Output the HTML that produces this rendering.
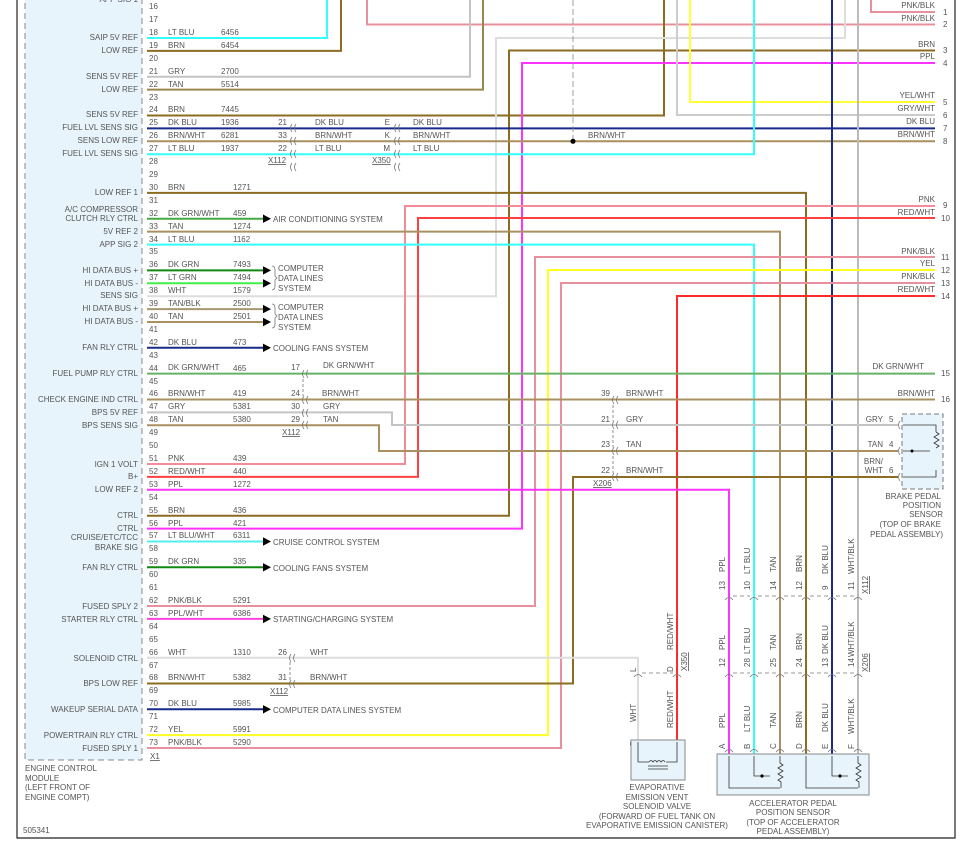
<!DOCTYPE html>
<html><head><meta charset="utf-8"><style>
html,body{margin:0;padding:0;background:#fff}
svg{display:block}
text{font-family:"Liberation Sans",sans-serif;font-size:8px;fill:#555}
.r{text-anchor:end}.m{text-anchor:middle}
.w{fill:none;stroke-width:2;stroke-linejoin:miter}
.c{fill:none;stroke:#777;stroke-width:0.8}
</style></head><body>
<svg width="965" height="842" viewBox="0 0 965 842" xmlns="http://www.w3.org/2000/svg">
<defs>
<pattern id="pg" patternUnits="userSpaceOnUse" x="0" y="-0.8" width="20" height="12.91">
<path d="M143.5 3v7M145.5 3.5q3 3.5 0 7.5" stroke="#666" stroke-width="0.8" fill="none"/>
</pattern>
</defs>
<!-- frame -->
<path d="M17 0V838H955V0" fill="none" stroke="#222" stroke-width="1.2"/>
<!-- ECM -->
<rect x="25" y="-5" width="117" height="765" fill="#e8f4fc" stroke="#888" stroke-dasharray="6,4"/>
<rect x="140" y="0" width="12" height="752" fill="url(#pg)"/>

<!-- wires -->
<g class="w">
<path d="M147 38H327V0" stroke="#33ffff"/>
<path d="M147 50.9H341V0" stroke="#8b6c22"/>
<path d="M367 0V24.5H935" stroke="#e8909e"/>
<path d="M871 0V12H935" stroke="#e8909e"/>
<path d="M147 76.7H470V0" stroke="#c4c4c4"/>
<path d="M147 89.6H483V0" stroke="#9c8650"/>
<path d="M147 115.5H664V0" stroke="#8b6c22"/>
<path d="M147 515.7H509V50.5H935" stroke="#8b6c22"/>
<path d="M147 528.6H522V63H935" stroke="#ff33ff"/>
<path d="M147 296.2H496V38H845V0" stroke="#dddddd"/>
<path d="M690 0V102H935" stroke="#ffff33"/>
<path d="M677 0V115H935" stroke="#cccccc"/>
<path d="M147 128.4H935" stroke="#1a2a8a"/>
<path d="M147 141.3H935" stroke="#a89060"/>
<path d="M147 154.2H754V0" stroke="#33ffff"/>
<path d="M832 0V755" stroke="#1a2a8a"/>
<path d="M858 0V755" stroke="#bbbbbb"/>
<path d="M147 192.9H806V755" stroke="#8b6c22"/>
<path d="M147 464H405V206H935" stroke="#f58a98"/>
<path d="M147 476.9H418V218H935" stroke="#ff4040"/>
<path d="M147 231.6H780V755" stroke="#a89060"/>
<path d="M147 244.6H754V755" stroke="#33ffff"/>
<path d="M147 606H535V257H935" stroke="#e8909e"/>
<path d="M147 735.1H548V270H935" stroke="#ffff22"/>
<path d="M147 748H561V283H935" stroke="#e8909e"/>
<path d="M935 296H677V740" stroke="#ff2a2a"/>
<path d="M147 373.6H935" stroke="#66b266"/>
<path d="M147 399.5H935" stroke="#a89060"/>
<path d="M147 412.4H392V425H898" stroke="#c4c4c4"/>
<path d="M147 425.3H379V451H898" stroke="#a89060"/>
<path d="M147 683.5H573V477H898" stroke="#8b6c22"/>
<path d="M147 489.8H729V755" stroke="#ff33ff"/>
<path d="M147 657.7H638V740" stroke="#dddddd"/>
<path d="M147 218.7H263" stroke="#44aa44"/>
<path d="M147 270.4H263" stroke="#118811"/>
<path d="M147 283.3H263" stroke="#44ee44"/>
<path d="M147 309.1H263" stroke="#a89870"/>
<path d="M147 322H263" stroke="#a89060"/>
<path d="M147 347.8H263" stroke="#1a2a8a"/>
<path d="M147 541.5H263" stroke="#55eeee"/>
<path d="M147 567.3H263" stroke="#118811"/>
<path d="M147 618.9H263" stroke="#ff44dd"/>
<path d="M147 709.3H263" stroke="#1a2a8a"/>
</g>
<path d="M573 0V141" stroke="#888" stroke-width="0.8" stroke-dasharray="6,3"/>
<circle cx="573" cy="141.3" r="2.5" fill="#000"/>

<!-- arrows -->
<g fill="#000">
<path d="M263 214.5l8 4.2-8 4.2z"/><path d="M263 266.2l8 4.2-8 4.2z"/><path d="M263 279.1l8 4.2-8 4.2z"/>
<path d="M263 304.9l8 4.2-8 4.2z"/><path d="M263 317.8l8 4.2-8 4.2z"/><path d="M263 343.6l8 4.2-8 4.2z"/>
<path d="M263 537.3l8 4.2-8 4.2z"/><path d="M263 563.1l8 4.2-8 4.2z"/><path d="M263 614.7l8 4.2-8 4.2z"/>
<path d="M263 705.1l8 4.2-8 4.2z"/>
</g>
<path d="M272 266q3 0 3 4v6l2 2-2 2v6q0 4-3 4M272 304q3 0 3 4v6l2 2-2 2v6q0 4-3 4" class="c"/>
<text x="273" y="222">AIR CONDITIONING SYSTEM</text>
<text x="278" y="271">COMPUTER</text><text x="278" y="281">DATA LINES</text><text x="278" y="291">SYSTEM</text>
<text x="278" y="310">COMPUTER</text><text x="278" y="320">DATA LINES</text><text x="278" y="330">SYSTEM</text>
<text x="273" y="351">COOLING FANS SYSTEM</text>
<text x="273" y="545">CRUISE CONTROL SYSTEM</text>
<text x="273" y="571">COOLING FANS SYSTEM</text>
<text x="273" y="622">STARTING/CHARGING SYSTEM</text>
<text x="273" y="713">COMPUTER DATA LINES SYSTEM</text>

<!-- ECM labels -->
<g class="r">
<text x="138" y="2">APP SIG 1</text>
<text x="138" y="40">SAIP 5V REF</text><text x="138" y="53">LOW REF</text>
<text x="138" y="79">SENS 5V REF</text><text x="138" y="92">LOW REF</text>
<text x="138" y="117">SENS 5V REF</text><text x="138" y="130">FUEL LVL SENS SIG</text>
<text x="138" y="143">SENS LOW REF</text><text x="138" y="156">FUEL LVL SENS SIG</text>
<text x="138" y="195">LOW REF 1</text>
<text x="138" y="212">A/C COMPRESSOR</text><text x="138" y="221">CLUTCH RLY CTRL</text>
<text x="138" y="234">5V REF 2</text><text x="138" y="247">APP SIG 2</text>
<text x="138" y="273">HI DATA BUS +</text><text x="138" y="286">HI DATA BUS -</text><text x="138" y="298">SENS SIG</text>
<text x="138" y="311">HI DATA BUS +</text><text x="138" y="324">HI DATA BUS -</text>
<text x="138" y="350">FAN RLY CTRL</text><text x="138" y="376">FUEL PUMP RLY CTRL</text>
<text x="138" y="402">CHECK ENGINE IND CTRL</text><text x="138" y="415">BPS 5V REF</text><text x="138" y="428">BPS SENS SIG</text>
<text x="138" y="467">IGN 1 VOLT</text><text x="138" y="479">B+</text><text x="138" y="492">LOW REF 2</text>
<text x="138" y="518">CTRL</text><text x="138" y="531">CTRL</text>
<text x="138" y="540">CRUISE/ETC/TCC</text><text x="138" y="550">BRAKE SIG</text>
<text x="138" y="570">FAN RLY CTRL</text><text x="138" y="609">FUSED SPLY 2</text><text x="138" y="622">STARTER RLY CTRL</text>
<text x="138" y="661">SOLENOID CTRL</text><text x="138" y="686">BPS LOW REF</text><text x="138" y="712">WAKEUP SERIAL DATA</text>
<text x="138" y="738">POWERTRAIN RLY CTRL</text><text x="138" y="751">FUSED SPLY 1</text>
</g>
<!-- pin numbers -->
<g>
<text x="149" y="9">16</text><text x="149" y="22">17</text><text x="149" y="35">18</text><text x="149" y="48">19</text>
<text x="149" y="61">20</text><text x="149" y="74">21</text><text x="149" y="87">22</text><text x="149" y="100">23</text>
<text x="149" y="112">24</text><text x="149" y="125">25</text><text x="149" y="138">26</text><text x="149" y="151">27</text>
<text x="149" y="164">28</text><text x="149" y="177">29</text><text x="149" y="190">30</text><text x="149" y="203">31</text>
<text x="149" y="216">32</text><text x="149" y="229">33</text><text x="149" y="242">34</text><text x="149" y="254">35</text>
<text x="149" y="267">36</text><text x="149" y="280">37</text><text x="149" y="293">38</text><text x="149" y="306">39</text>
<text x="149" y="319">40</text><text x="149" y="332">41</text><text x="149" y="345">42</text><text x="149" y="358">43</text>
<text x="149" y="371">44</text><text x="149" y="384">45</text><text x="149" y="396">46</text><text x="149" y="409">47</text>
<text x="149" y="422">48</text><text x="149" y="435">49</text><text x="149" y="448">50</text><text x="149" y="461">51</text>
<text x="149" y="474">52</text><text x="149" y="487">53</text><text x="149" y="500">54</text><text x="149" y="513">55</text>
<text x="149" y="526">56</text><text x="149" y="538">57</text><text x="149" y="551">58</text><text x="149" y="564">59</text>
<text x="149" y="577">60</text><text x="149" y="590">61</text><text x="149" y="603">62</text><text x="149" y="616">63</text>
<text x="149" y="629">64</text><text x="149" y="642">65</text><text x="149" y="655">66</text><text x="149" y="668">67</text>
<text x="149" y="680">68</text><text x="149" y="693">69</text><text x="149" y="706">70</text><text x="149" y="719">71</text>
<text x="149" y="732">72</text><text x="149" y="745">73</text>
<text x="150" y="759" text-decoration="underline">X1</text>
</g>
<!-- wire labels -->
<g>
<text x="168" y="35">LT BLU</text><text x="221" y="35">6456</text>
<text x="168" y="48">BRN</text><text x="221" y="48">6454</text>
<text x="168" y="74">GRY</text><text x="221" y="74">2700</text>
<text x="168" y="87">TAN</text><text x="221" y="87">5514</text>
<text x="168" y="112">BRN</text><text x="221" y="112">7445</text>
<text x="168" y="125">DK BLU</text><text x="221" y="125">1936</text>
<text x="168" y="138">BRN/WHT</text><text x="221" y="138">6281</text>
<text x="168" y="151">LT BLU</text><text x="221" y="151">1937</text>
<text x="168" y="190">BRN</text><text x="233" y="190">1271</text>
<text x="168" y="216">DK GRN/WHT</text><text x="233" y="216">459</text>
<text x="168" y="229">TAN</text><text x="233" y="229">1274</text>
<text x="168" y="242">LT BLU</text><text x="233" y="242">1162</text>
<text x="168" y="267">DK GRN</text><text x="233" y="267">7493</text>
<text x="168" y="280">LT GRN</text><text x="233" y="280">7494</text>
<text x="168" y="293">WHT</text><text x="233" y="293">1579</text>
<text x="168" y="306">TAN/BLK</text><text x="233" y="306">2500</text>
<text x="168" y="319">TAN</text><text x="233" y="319">2501</text>
<text x="168" y="345">DK BLU</text><text x="233" y="345">473</text>
<text x="168" y="370">DK GRN/WHT</text><text x="233" y="371">465</text>
<text x="168" y="396">BRN/WHT</text><text x="233" y="396">419</text>
<text x="168" y="409">GRY</text><text x="233" y="409">5381</text>
<text x="168" y="422">TAN</text><text x="233" y="422">5380</text>
<text x="168" y="461">PNK</text><text x="233" y="461">439</text>
<text x="168" y="474">RED/WHT</text><text x="233" y="474">440</text>
<text x="168" y="487">PPL</text><text x="233" y="487">1272</text>
<text x="168" y="513">BRN</text><text x="233" y="513">436</text>
<text x="168" y="526">PPL</text><text x="233" y="526">421</text>
<text x="168" y="538">LT BLU/WHT</text><text x="233" y="538">6311</text>
<text x="168" y="564">DK GRN</text><text x="233" y="564">335</text>
<text x="168" y="603">PNK/BLK</text><text x="233" y="603">5291</text>
<text x="168" y="616">PPL/WHT</text><text x="233" y="616">6386</text>
<text x="168" y="655">WHT</text><text x="233" y="655">1310</text>
<text x="168" y="680">BRN/WHT</text><text x="233" y="680">5382</text>
<text x="168" y="706">DK BLU</text><text x="233" y="706">5985</text>
<text x="168" y="732">YEL</text><text x="233" y="732">5991</text>
<text x="168" y="745">PNK/BLK</text><text x="233" y="745">5290</text>
</g>
<!-- inline connectors -->
<g class="c">
<path d="M292 124q-3 4 0 8M296 124q-3 4 0 8M292 137q-3 4 0 8M296 137q-3 4 0 8M292 150q-3 4 0 8M296 150q-3 4 0 8M292 163q-3 4 0 8M296 163q-3 4 0 8"/>
<path d="M396 124q-3 4 0 8M400 124q-3 4 0 8M396 137q-3 4 0 8M400 137q-3 4 0 8M396 150q-3 4 0 8M400 150q-3 4 0 8M396 163q-3 4 0 8M400 163q-3 4 0 8"/>
<path d="M304 370q-3 4 0 8M308 370q-3 4 0 8M304 396q-3 4 0 8M308 396q-3 4 0 8M304 409q-3 4 0 8M308 409q-3 4 0 8M304 421q-3 4 0 8M308 421q-3 4 0 8"/>
<path d="M291 654q-3 4 0 8M295 654q-3 4 0 8M291 680q-3 4 0 8M295 680q-3 4 0 8"/>
<path d="M614 396q-3 4 0 8M618 396q-3 4 0 8M614 421q-3 4 0 8M618 421q-3 4 0 8M614 447q-3 4 0 8M618 447q-3 4 0 8M614 473q-3 4 0 8M618 473q-3 4 0 8"/>
<path d="M303 379v17M290 662v18M613 405v16M613 430v17M613 456v17" stroke-dasharray="3,2"/>
</g>
<g>
<text x="287" y="125" class="r">21</text><text x="315" y="125">DK BLU</text><text x="390" y="125" class="r">E</text><text x="413" y="125">DK BLU</text>
<text x="287" y="138" class="r">33</text><text x="315" y="138">BRN/WHT</text><text x="390" y="138" class="r">K</text><text x="413" y="138">BRN/WHT</text>
<text x="287" y="151" class="r">22</text><text x="315" y="151">LT BLU</text><text x="390" y="151" class="r">M</text><text x="413" y="151">LT BLU</text>
<text x="268" y="163" text-decoration="underline">X112</text><text x="372" y="163" text-decoration="underline">X350</text>
<text x="588" y="138">BRN/WHT</text>
<text x="300" y="370" class="r">17</text><text x="323" y="368">DK GRN/WHT</text>
<text x="300" y="396" class="r">24</text><text x="322" y="396">BRN/WHT</text>
<text x="300" y="409" class="r">30</text><text x="323" y="409">GRY</text>
<text x="300" y="422" class="r">29</text><text x="323" y="422">TAN</text>
<text x="282" y="435" text-decoration="underline">X112</text>
<text x="287" y="655" class="r">26</text><text x="310" y="655">WHT</text>
<text x="287" y="680" class="r">31</text><text x="310" y="680">BRN/WHT</text>
<text x="270" y="694" text-decoration="underline">X112</text>
<text x="610" y="396" class="r">39</text><text x="626" y="396">BRN/WHT</text>
<text x="610" y="422" class="r">21</text><text x="626" y="422">GRY</text>
<text x="610" y="447" class="r">23</text><text x="626" y="447">TAN</text>
<text x="610" y="473" class="r">22</text><text x="626" y="473">BRN/WHT</text>
<text x="593" y="486" text-decoration="underline">X206</text>
</g>
<!-- right pins -->
<g class="r">
<text x="935" y="8">PNK/BLK</text><text x="935" y="21">PNK/BLK</text>
<text x="935" y="47">BRN</text><text x="935" y="59">PPL</text>
<text x="935" y="98">YEL/WHT</text><text x="935" y="111">GRY/WHT</text><text x="935" y="124">DK BLU</text><text x="935" y="137">BRN/WHT</text>
<text x="935" y="202">PNK</text><text x="935" y="215">RED/WHT</text>
<text x="935" y="254">PNK/BLK</text><text x="935" y="266">YEL</text><text x="935" y="279">PNK/BLK</text><text x="935" y="292">RED/WHT</text>
<text x="924" y="369">DK GRN/WHT</text><text x="935" y="396">BRN/WHT</text>
</g>
<g>
<text x="943" y="15">1</text><text x="943" y="27">2</text><text x="943" y="53">3</text><text x="943" y="66">4</text>
<text x="943" y="105">5</text><text x="943" y="118">6</text><text x="943" y="131">7</text><text x="943" y="144">8</text>
<text x="943" y="208">9</text><text x="941" y="221">10</text><text x="941" y="260">11</text><text x="941" y="273">12</text>
<text x="941" y="286">13</text><text x="941" y="299">14</text><text x="941" y="376">15</text><text x="941" y="402">16</text>
</g>
<!-- brake sensor -->
<rect x="902" y="414" width="41" height="75" fill="#e8f4fc" stroke="#777" stroke-dasharray="5,3"/>
<g class="c"><path d="M900 421q-3 4 0 8M900 447q-3 4 0 8M900 473q-3 4 0 8"/></g>
<path d="M903 425H936V432M903 451H930M903 477H936V470M936 432l3 2-5 3 5 3-5 3 5 3-3 2" fill="none" stroke="#333" stroke-width="0.8"/>
<circle cx="912" cy="451" r="1.5" fill="#000"/>
<g class="r"><text x="883" y="422">GRY</text><text x="883" y="447">TAN</text><text x="883" y="464">BRN/</text><text x="883" y="473">WHT</text></g>
<text x="889" y="422">5</text><text x="889" y="447">4</text><text x="889" y="473">6</text>
<g class="r"><text x="941" y="499">BRAKE PEDAL</text><text x="941" y="508">POSITION</text><text x="943" y="517">SENSOR</text><text x="941" y="527">(TOP OF BRAKE</text><text x="943" y="537">PEDAL ASSEMBLY)</text></g>

<!-- APP connectors -->
<g class="c">
<path d="M725 600q4-5 8 0M750 600q4-5 8 0M776 600q4-5 8 0M802 600q4-5 8 0M828 600q4-5 8 0M854 600q4-5 8 0"/>
<path d="M725 677q4-5 8 0M750 677q4-5 8 0M776 677q4-5 8 0M802 677q4-5 8 0M828 677q4-5 8 0M854 677q4-5 8 0"/>
<path d="M725 752q4-5 8 0M750 752q4-5 8 0M776 752q4-5 8 0M802 752q4-5 8 0M828 752q4-5 8 0M854 752q4-5 8 0"/>
<path d="M634 744q4-5 8 0M673 744q4-5 8 0M634 677q4-5 8 0M673 677q4-5 8 0"/>
<path d="M733 596h17M758 596h18M784 596h18M810 596h18M836 596h18M733 673h17M758 673h18M784 673h18M810 673h18M836 673h18M642 673h31" stroke-dasharray="4,3"/>
</g>
<g>
<text transform="translate(725,590) rotate(-90)">13</text><text transform="translate(725,572) rotate(-90)">PPL</text>
<text transform="translate(750,590) rotate(-90)">10</text><text transform="translate(750,574) rotate(-90)">LT BLU</text>
<text transform="translate(776,590) rotate(-90)">14</text><text transform="translate(776,572) rotate(-90)">TAN</text>
<text transform="translate(802,590) rotate(-90)">12</text><text transform="translate(802,572) rotate(-90)">BRN</text>
<text transform="translate(828,590) rotate(-90)">9</text><text transform="translate(828,574) rotate(-90)">DK BLU</text>
<text transform="translate(854,590) rotate(-90)">11</text><text transform="translate(854,574) rotate(-90)">WHT/BLK</text>
<text transform="translate(868,594) rotate(-90)" text-decoration="underline">X112</text>
<text transform="translate(725,667) rotate(-90)">12</text><text transform="translate(725,650) rotate(-90)">PPL</text>
<text transform="translate(750,667) rotate(-90)">28</text><text transform="translate(750,654) rotate(-90)">LT BLU</text>
<text transform="translate(776,667) rotate(-90)">25</text><text transform="translate(776,650) rotate(-90)">TAN</text>
<text transform="translate(802,667) rotate(-90)">24</text><text transform="translate(802,650) rotate(-90)">BRN</text>
<text transform="translate(828,667) rotate(-90)">13</text><text transform="translate(828,654) rotate(-90)">DK BLU</text>
<text transform="translate(854,667) rotate(-90)">14</text><text transform="translate(854,657) rotate(-90)">WHT/BLK</text>
<text transform="translate(868,672) rotate(-90)" text-decoration="underline">X206</text>
<text transform="translate(725,749) rotate(-90)">A</text><text transform="translate(725,728) rotate(-90)">PPL</text>
<text transform="translate(750,749) rotate(-90)">B</text><text transform="translate(750,732) rotate(-90)">LT BLU</text>
<text transform="translate(776,749) rotate(-90)">C</text><text transform="translate(776,728) rotate(-90)">TAN</text>
<text transform="translate(802,749) rotate(-90)">D</text><text transform="translate(802,728) rotate(-90)">BRN</text>
<text transform="translate(828,749) rotate(-90)">E</text><text transform="translate(828,732) rotate(-90)">DK BLU</text>
<text transform="translate(854,749) rotate(-90)">F</text><text transform="translate(854,734) rotate(-90)">WHT/BLK</text>
<text transform="translate(636,672) rotate(-90)">L</text><text transform="translate(673,672) rotate(-90)">D</text>
<text transform="translate(673,650) rotate(-90)">RED/WHT</text>
<text transform="translate(687,671) rotate(-90)" text-decoration="underline">X350</text>
<text transform="translate(636,746) rotate(-90)">B</text><text transform="translate(636,722) rotate(-90)">WHT</text>
<text transform="translate(673,746) rotate(-90)">A</text><text transform="translate(673,728) rotate(-90)">RED/WHT</text>
</g>
<!-- APP sensor -->
<rect x="717" y="754" width="152" height="41" fill="#e8f4fc" stroke="#888"/>
<path d="M729 756V788H780M754 756V776H770M780 756V763l3 2-5 3 5 3-5 3 5 3-5 3 3 2V788M806 756V788H858M832 756V776H848M858 756V763l3 2-5 3 5 3-5 3 5 3-5 3 3 2V788" fill="none" stroke="#333" stroke-width="0.8"/>
<circle cx="762" cy="776" r="1.6" fill="#000"/><circle cx="840" cy="776" r="1.6" fill="#000"/>
<g class="m"><text x="793" y="806">ACCELERATOR PEDAL</text><text x="793" y="815">POSITION SENSOR</text><text x="793" y="825">(TOP OF ACCELERATOR</text><text x="793" y="834">PEDAL ASSEMBLY)</text></g>
<!-- solenoid -->
<rect x="631" y="740" width="54" height="40" fill="#e8f4fc" stroke="#888"/>
<path d="M638 742V762H649M677 742V762H666M649 762q2-3 4 0q2-3 4 0q2-3 4 0q2-3 4 0M648 766h20M648 769h20" fill="none" stroke="#333" stroke-width="0.8"/>
<g class="m"><text x="657" y="790">EVAPORATIVE</text><text x="657" y="800">EMISSION VENT</text><text x="657" y="809">SOLENOID VALVE</text><text x="657" y="819">(FORWARD OF FUEL TANK ON</text><text x="657" y="828">EVAPORATIVE EMISSION CANISTER)</text></g>
<!-- ECM caption -->
<text x="25" y="771">ENGINE CONTROL</text><text x="25" y="781">MODULE</text><text x="25" y="790">(LEFT FRONT OF</text><text x="25" y="800">ENGINE COMPT)</text>
<text x="23" y="833">505341</text>
</svg>
</body></html>
